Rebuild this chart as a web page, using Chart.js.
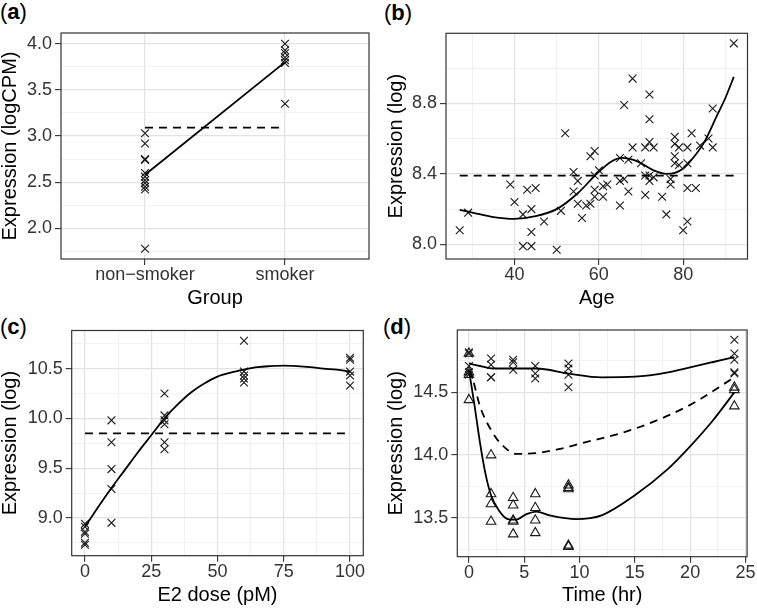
<!DOCTYPE html>
<html><head><meta charset="utf-8">
<script src="https://cdn.jsdelivr.net/npm/chart.js@4/dist/chart.umd.min.js"></script>
<style>
body{margin:0;background:#fff;width:757px;height:608px;position:relative;overflow:hidden;font-family:"Liberation Sans",Arial,Helvetica,sans-serif}
canvas{position:absolute}
.lab{position:absolute;font-size:22px;line-height:22px;color:#000;white-space:nowrap}
.lab b{font-weight:bold}
</style></head><body>
<div class="lab" style="left:0px;top:1px">(<b>a</b>)</div>
<div class="lab" style="left:384px;top:1.5px">(<b>b</b>)</div>
<div class="lab" style="left:0px;top:316px">(<b>c</b>)</div>
<div class="lab" style="left:383px;top:316px">(<b>d</b>)</div>
<canvas id="ca" width="378" height="308" style="left:0;top:0"></canvas>
<canvas id="cb" width="371" height="308" style="left:386px;top:0"></canvas>
<canvas id="cc" width="378" height="305" style="left:0;top:300px"></canvas>
<canvas id="cd" width="371" height="305" style="left:386px;top:300px"></canvas>
<script>
// ---------- Panel (a) ----------
const groupCategories = ['non\u2212smoker', 'smoker'];
const nonSmokerExpr = [3.03, 2.92, 2.75, 2.74, 2.60, 2.56, 2.52, 2.49, 2.45, 2.42, 1.78];
const smokerExpr = [4.00, 3.93, 3.90, 3.85, 3.82, 3.79, 3.35];
const groupFit = [2.58, 3.80];
const groupOverall = 3.09;
const aYMajor = [2.0, 2.5, 3.0, 3.5, 4.0];
const aYMinor = [1.75, 2.25, 2.75, 3.25, 3.75];

// ---------- Panel (b) ----------
const ageValues = [27,29,39,40,42,42,43,44,44,44,45,47,50,51,52,54,54,55,55,56,57,58,58,59,59,59,59,60,61,61,62,65,65,65,66,66,67,67,68,68,70,71,71,71,72,72,72,72,72,73,73,75,76,77,77,78,78,78,78,79,79,80,81,81,81,81,82,83,84,86,87,87,92];
const ageExpr = [8.08,8.18,8.34,8.24,8.17,7.99,8.31,7.99,8.20,8.07,8.32,8.13,7.97,8.19,8.63,8.30,8.41,8.36,8.23,8.15,8.22,8.50,8.23,8.53,8.31,8.27,8.39,8.42,8.27,8.33,8.34,8.22,8.36,8.49,8.79,8.37,8.48,8.30,8.55,8.94,8.46,8.39,8.55,8.28,8.85,8.71,8.58,8.36,8.39,8.55,8.38,8.27,8.17,8.34,8.37,8.61,8.57,8.50,8.46,8.45,8.55,8.08,8.32,8.13,8.55,8.46,8.63,8.32,8.56,8.60,8.77,8.55,9.14];
const ageCurveX = [27,30,35,40,45,50,55,59.5,63,65.5,68,70,73,76,78,80,82,85,88,90,92];
const ageCurveY = [8.195,8.18,8.155,8.145,8.16,8.20,8.29,8.40,8.47,8.49,8.48,8.46,8.42,8.40,8.405,8.43,8.48,8.58,8.73,8.83,8.95];
const ageOverall = 8.39;
const bXMajor = [40, 60, 80], bXMinor = [30, 50, 70, 90];
const bYMajor = [8.0, 8.4, 8.8], bYMinor = [8.2, 8.6, 9.0];

// ---------- Panel (c) ----------
const doseValues = [0,0,0,0,0,0, 10,10,10,10,10, 30,30,30,30,30,30, 60,60,60,60,60, 100,100,100,100,100];
const doseExpr = [8.94,8.91,8.86,8.84,8.75,8.73, 9.98,9.76,9.49,9.29,8.95, 10.25,10.03,9.98,9.94,9.76,9.69, 10.78,10.47,10.43,10.40,10.36, 10.61,10.59,10.47,10.43,10.33];
const doseCurveX = [0,5,10,15,20,25,30,35,40,45,50,55,60,65,70,75,80,85,90,95,100];
const doseCurveY = [8.91,9.11,9.30,9.48,9.66,9.83,10.0,10.14,10.26,10.35,10.42,10.46,10.49,10.515,10.525,10.53,10.525,10.515,10.50,10.49,10.47];
const doseOverall = 9.85;
const cXMajor = [0, 25, 50, 75, 100], cXMinor = [12.5, 37.5, 62.5, 87.5];
const cYMajor = [9.0, 9.5, 10.0, 10.5], cYMinor = [8.75, 9.25, 9.75, 10.25, 10.75];

// ---------- Panel (d) ----------
const timeCrossX = [0,0,0,0,0, 2,2,2,2, 4,4,4, 6,6,6, 9,9,9,9, 24,24,24,24,24];
const timeCrossY = [14.82,14.81,14.71,14.66,14.64, 14.77,14.72,14.62,14.62, 14.76,14.74,14.68, 14.71,14.65,14.61, 14.73,14.69,14.64,14.54, 14.92,14.81,14.76,14.66,14.65];
const timeTriX = [0,0,0,0, 2,2,2,2, 4,4,4,4,4, 6,6,6,6, 9,9,9,9,9, 24,24,24];
const timeTriY = [14.81,14.66,14.64,14.44, 14.00,13.69,13.61,13.47, 13.66,13.60,13.48,13.47,13.37, 13.69,13.58,13.48,13.38, 13.76,13.74,13.73,13.28,13.27, 14.54,14.52,14.39];
const timeUpperX = [0,1,2.2,4.2,6.1,9,12,15,18,20,22,24];
const timeUpperY = [14.73,14.71,14.69,14.69,14.69,14.65,14.62,14.625,14.66,14.70,14.74,14.78];
const timeLowerX = [0,0.5,1,1.5,2,2.7,3.5,4.2,5.2,6.1,7.3,9.7,12,15,18,20,22,24];
const timeLowerY = [14.68,14.40,14.10,13.85,13.68,13.56,13.49,13.485,13.53,13.55,13.52,13.49,13.52,13.68,13.89,14.07,14.27,14.50];
const timeDashX = [0,0.3,1,2,3,4.3,6,8,10,15,20,24];
const timeDashY = [14.68,14.62,14.39,14.20,14.08,14.01,14.015,14.045,14.09,14.21,14.40,14.62];
const dXMajor = [0, 5, 10, 15, 20, 25], dXMinor = [2.5, 7.5, 12.5, 17.5, 22.5];
const dYMajor = [13.5, 14.0, 14.5], dYMinor = [13.25, 13.75, 14.25, 14.75];

// ---------- helpers ----------
const FONT = '"Liberation Sans", Arial, Helvetica, sans-serif';
const INK = '#1a1a1a';
const pts = (xs, ys) => xs.map((x, i) => ({x: x, y: ys[i]}));

function axis(o) {
  const isMajor = v => o.major.some(m => Math.abs(m - v) < 1e-9);
  return {
    type: 'linear', min: o.min, max: o.max,
    afterBuildTicks: s => { s.ticks = o.major.concat(o.minor).sort((a, b) => a - b).map(v => ({value: v})); },
    afterFit: s => { if (s.isHorizontal()) s.height = o.size; else s.width = o.size; },
    ticks: {
      autoSkip: false, maxRotation: 0, minRotation: 0, padding: o.pad,
      font: {size: 18, lineHeight: 1, family: FONT}, color: '#333',
      callback: v => isMajor(v) ? o.fmt(v) : ''
    },
    grid: {
      color: c => (c.tick && isMajor(c.tick.value)) ? '#e2e2e2' : '#eeeeee',
      lineWidth: c => (c.tick && isMajor(c.tick.value)) ? 1.2 : 0.8,
      tickColor: c => (c.tick && isMajor(c.tick.value)) ? '#333' : 'rgba(0,0,0,0)',
      tickWidth: 1.1, tickLength: 6, drawTicks: true
    },
    border: {display: false},
    title: {display: true, text: o.title, font: {size: 20, lineHeight: 1, family: FONT}, color: '#000', padding: 0}
  };
}

const frame = {
  id: 'frame',
  afterDraw(chart) {
    const a = chart.chartArea, ctx = chart.ctx;
    ctx.save(); ctx.strokeStyle = '#333'; ctx.lineWidth = 1.2;
    ctx.strokeRect(a.left, a.top, a.right - a.left, a.bottom - a.top);
    ctx.restore();
  }
};

const crossSet = d => ({data: d, pointStyle: 'crossRot', pointRadius: 5.5, pointBorderWidth: 1.1, borderColor: INK, backgroundColor: 'rgba(0,0,0,0)', showLine: false});
const triSet = d => ({data: d, pointStyle: 'triangle', pointRadius: 5.5, pointBorderWidth: 1.1, borderColor: INK, backgroundColor: 'rgba(0,0,0,0)', showLine: false});
const curve = (d, dashed, smooth) => ({data: d, showLine: true, pointRadius: 0, borderColor: '#000', borderWidth: 1.8,
  borderDash: dashed ? [8, 6] : [], tension: smooth ? 0.4 : 0, cubicInterpolationMode: smooth ? 'monotone' : 'default', fill: false});

function make(id, datasets, x, y, pad) {
  return new Chart(document.getElementById(id), {
    type: 'scatter',
    data: {datasets: datasets},
    options: {
      responsive: false, animation: false, events: [],
      layout: {padding: pad},
      plugins: {legend: {display: false}, tooltip: {enabled: false}},
      scales: {x: x, y: y}
    },
    plugins: [frame]
  });
}

// Panel (a)
make('ca', [
  curve([{x: 1, y: groupOverall}, {x: 2, y: groupOverall}], true, false),
  curve([{x: 1, y: groupFit[0]}, {x: 2, y: groupFit[1]}], false, false),
  crossSet(nonSmokerExpr.map(v => ({x: 1, y: v}))),
  crossSet(smokerExpr.map(v => ({x: 2, y: v})))
],
  axis({min: 0.4, max: 2.6, major: [1, 2], minor: [], fmt: v => groupCategories[Math.round(v) - 1], size: 49, pad: 1.5, title: 'Group'}),
  axis({min: 1.668, max: 4.116, major: aYMajor, minor: aYMinor, fmt: v => v.toFixed(1), size: 61, pad: 3, title: 'Expression (logCPM)'}),
  {left: 0, right: 9, top: 33, bottom: 0});

// Panel (b)
make('cb', [
  curve([{x: 27, y: ageOverall}, {x: 92, y: ageOverall}], true, false),
  curve(pts(ageCurveX, ageCurveY), false, true),
  crossSet(pts(ageValues, ageExpr))
],
  axis({min: 23.75, max: 95.25, major: bXMajor, minor: bXMinor, fmt: v => String(v), size: 49, pad: 1.5, title: 'Age'}),
  axis({min: 7.917, max: 9.197, major: bYMajor, minor: bYMinor, fmt: v => v.toFixed(1), size: 60, pad: 3, title: 'Expression (log)'}),
  {left: 0, right: 9.5, top: 33.3, bottom: 0});

// Panel (c)
make('cc', [
  curve([{x: 0, y: doseOverall}, {x: 100, y: doseOverall}], true, false),
  curve(pts(doseCurveX, doseCurveY), false, true),
  crossSet(pts(doseValues, doseExpr))
],
  axis({min: -5, max: 105, major: cXMajor, minor: cXMinor, fmt: v => String(v), size: 49.3, pad: 1.5, title: 'E2 dose (pM)'}),
  axis({min: 8.62, max: 10.883, major: cYMajor, minor: cYMinor, fmt: v => v.toFixed(1), size: 71.7, pad: 3, title: 'Expression (log)'}),
  {left: 0, right: 14.7, top: 30.5, bottom: 0});

// Panel (d)
make('cd', [
  curve(pts(timeDashX, timeDashY), true, true),
  curve(pts(timeUpperX, timeUpperY), false, true),
  curve(pts(timeLowerX, timeLowerY), false, true),
  crossSet(pts(timeCrossX, timeCrossY)),
  triSet(pts(timeTriX, timeTriY))
],
  axis({min: -1.05, max: 25.15, major: dXMajor, minor: dXMinor, fmt: v => String(v), size: 48.3, pad: 1.5, title: 'Time (hr)'}),
  axis({min: 13.19, max: 14.997, major: dYMajor, minor: dYMinor, fmt: v => v.toFixed(1), size: 71.3, pad: 3, title: 'Expression (log)'}),
  {left: 0, right: 9, top: 30, bottom: 0});
</script>
</body></html>
